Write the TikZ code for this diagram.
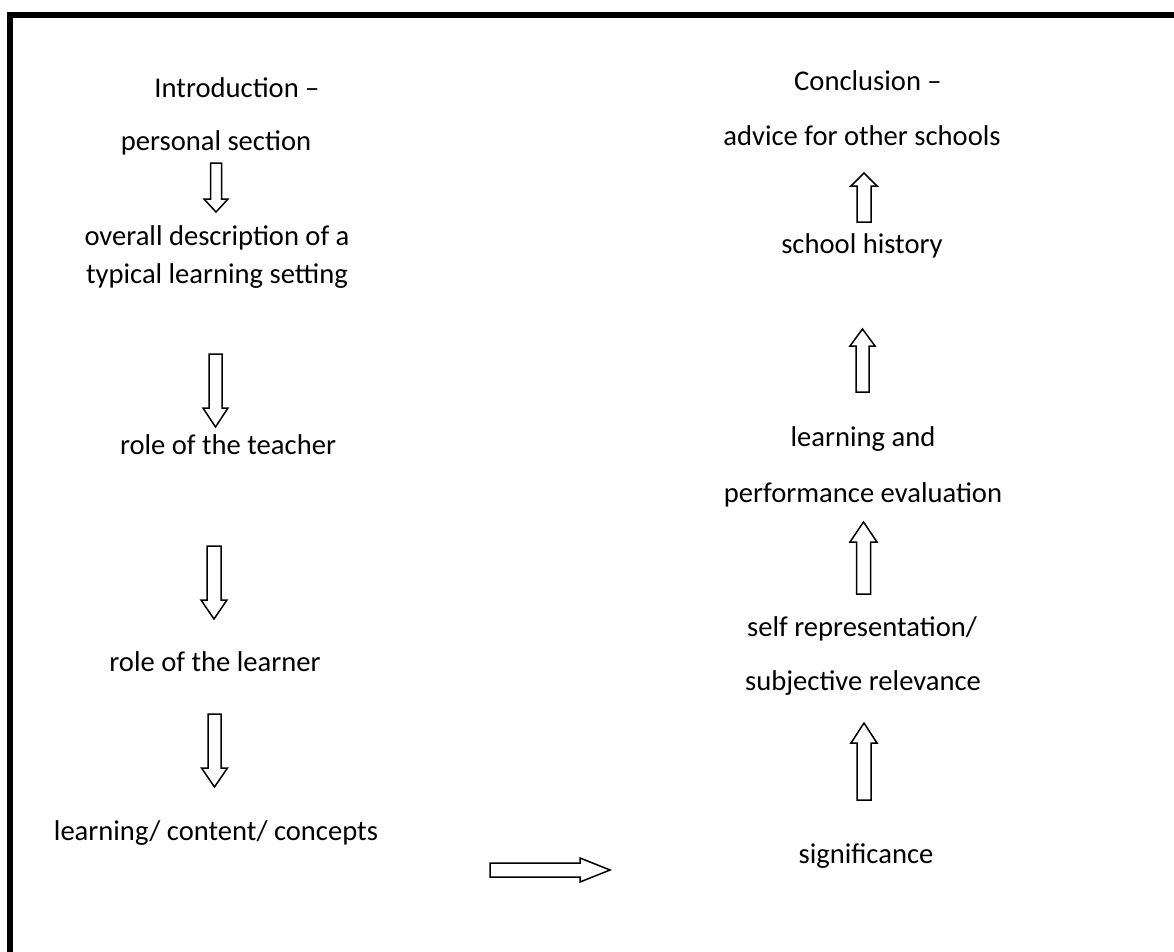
\documentclass[tikz,border=0pt]{standalone}
\usepackage{fontspec}
\setmainfont{Carlito}
\tikzset{
  lbl/.style={anchor=base, inner sep=0pt, font=\fontsize{28.6bp}{34bp}\selectfont},
  blk/.style={draw=black, line width=1.5bp, line join=miter, fill=white},
  frame/.style={draw=black, line width=6bp, line join=miter}
}
% vertical block arrow: cx, shaft end, head base, tip, shaft half width, head half width
\newcommand{\vblockarrow}[6]{%
  \draw[blk] ({#1-#5},#2) -- ({#1+#5},#2) -- ({#1+#5},#3) -- ({#1+#6},#3) -- (#1,#4) -- ({#1-#6},#3) -- ({#1-#5},#3) -- cycle;}
% horizontal block arrow: cy, shaft end, head base, tip, shaft half height, head half height
\newcommand{\hblockarrow}[6]{%
  \draw[blk] (#2,{#1-#5}) -- (#2,{#1+#5}) -- (#3,{#1+#5}) -- (#3,{#1+#6}) -- (#4,#1) -- (#3,{#1-#6}) -- (#3,{#1-#5}) -- cycle;}
\begin{document}
\begin{tikzpicture}[x=1bp,y=-1bp]
\useasboundingbox (0,0) rectangle (1174,952);
\draw[frame] (10,960) -- (10,15) -- (1180,15);
% left column
\node[lbl] (intro) at (237,97) {Introduction –};
\node[lbl] (pers) at (216,150) {personal section};
\node[lbl] (over1) at (217,245) {overall description of a};
\node[lbl] (over2) at (217,283) {typical learning setting};
\node[lbl] (teach) at (228,454) {role of the teacher};
\node[lbl] (learner) at (215,671) {role of the learner};
\node[lbl] (content) at (216,840) {learning/ content/ concepts};
% right column
\node[lbl] (concl) at (868,90) {Conclusion –};
\node[lbl] (advice) at (862,145) {advice for other schools};
\node[lbl] (hist) at (862,253) {school history};
\node[lbl] (learn1) at (863,446) {learning and};
\node[lbl] (learn2) at (863,502) {performance evaluation};
\node[lbl] (self1) at (862,636) {self representation/};
\node[lbl] (self2) at (863,690) {subjective relevance};
\node[lbl] (sig) at (866,863) {significance};
% arrows left
\vblockarrow{216}{163}{199}{212}{5.5}{12}
\vblockarrow{215.5}{354}{408}{427}{6.5}{12.5}
\vblockarrow{214}{546}{600}{619}{7}{13}
\vblockarrow{214.5}{714}{768}{787}{6.5}{13}
% arrows right
\vblockarrow{864}{222}{186}{173}{7}{13}
\vblockarrow{862.5}{392}{346}{329}{6.5}{12.5}
\vblockarrow{863.5}{594}{542}{522}{7}{13.5}
\vblockarrow{864}{800}{743}{723}{7}{13}
% horizontal
\hblockarrow{870}{490}{580}{610}{7}{12}
\end{tikzpicture}
\end{document}
